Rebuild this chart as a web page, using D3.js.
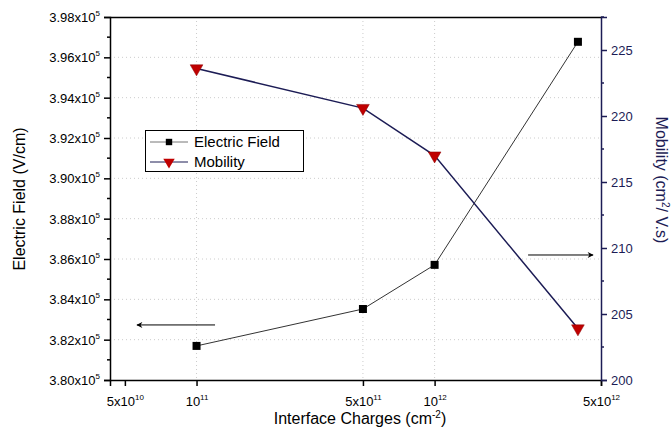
<!DOCTYPE html>
<html><head><meta charset="utf-8">
<script src="https://cdn.jsdelivr.net/npm/d3@7"></script>
<style>body{margin:0;background:#fff} text{font-family:"Liberation Sans",Arial,sans-serif}</style>
</head><body><svg id="c" width="672" height="432"></svg>
<script>
const charges = [1e11, 5e11, 1e12, 4e12];
const electricField = [3.8169e5, 3.8352e5, 3.8571e5, 3.9677e5];
const mobility = [223.6, 220.6, 217.0, 203.9];
const xTicks = [5e10, 1e11, 5e11, 1e12, 5e12];
const xTickLabels = [["5x10","10"],["10","11"],["5x10","11"],["10","12"],["5x10","12"]];
const yLeftTicks = [3.80e5,3.82e5,3.84e5,3.86e5,3.88e5,3.90e5,3.92e5,3.94e5,3.96e5,3.98e5];
const yLeftTickLabels = ["3.80","3.82","3.84","3.86","3.88","3.90","3.92","3.94","3.96","3.98"];
const yRightTicks = [200,205,210,215,220,225];
const arrowLeft = {x:[5.62e10,1.196e11], y:3.8273e5};
const arrowRight = {x:[2.47e12,4.63e12], y:209.47};

const svg = d3.select("#c");
const L=110,R=601,T=17,B=380;
const navy="#1c1c55";
const x = d3.scaleLog().domain([4.33e10,5e12]).range([L,R]);
const yL = d3.scaleLinear().domain([3.80e5,3.98e5]).range([B,T]);
const yR = d3.scaleLinear().domain([200,227.5]).range([B,T]);

// gridlines
const g = svg.append("g");
g.selectAll("line.h").data(yLeftTicks.slice(1,-1)).enter().append("line")
 .attr("x1",L).attr("x2",R).attr("y1",d=>yL(d)).attr("y2",d=>yL(d))
 .attr("stroke","#ccc").attr("stroke-width",1).attr("stroke-dasharray","1,3");
g.selectAll("line.v").data(xTicks.slice(1,-1)).enter().append("line")
 .attr("y1",T).attr("y2",B).attr("x1",d=>x(d)).attr("x2",d=>x(d))
 .attr("stroke","#ccc").attr("stroke-width",1).attr("stroke-dasharray","1,3");

// top frame
svg.append("line").attr("x1",L).attr("x2",R).attr("y1",T+0.5).attr("y2",T+0.5).attr("stroke","#000").attr("stroke-width",1.5);

// x axis
const xa = svg.append("g").attr("transform",`translate(0,${B})`)
 .call(d3.axisBottom(x).tickValues(xTicks).tickSize(6).tickFormat(""));
xa.select(".domain").attr("stroke-width",1.5);
xa.selectAll(".tick line").attr("stroke-width",1.5);
xa.selectAll(".tick").append("text").attr("y",26).attr("text-anchor","middle")
 .attr("fill","#000").style("font-size","13px")
 .each(function(d,i){
   const t=d3.select(this);
   t.append("tspan").text(xTickLabels[i][0]);
   t.append("tspan").attr("dy",-6).style("font-size","8px").text(xTickLabels[i][1]);
 });

// left axis
const ya = svg.append("g").attr("transform",`translate(${L},0)`)
 .call(d3.axisLeft(yL).tickValues(yLeftTicks).tickSize(6).tickFormat(""));
ya.select(".domain").attr("stroke-width",1.5);
ya.selectAll(".tick line").attr("stroke-width",1.5);
ya.selectAll(".tick").append("text").attr("x",-10).attr("dy","0.35em").attr("text-anchor","end")
 .attr("fill","#000").style("font-size","13px")
 .each(function(d,i){
   const t=d3.select(this);
   t.append("tspan").text(yLeftTickLabels[i]+"x10");
   t.append("tspan").attr("dy",-6).style("font-size","8px").text("5");
 });
const yLminor = d3.range(0,9).map(i=>yLeftTicks[i]+0.01e5);
svg.append("g").selectAll("line").data(yLminor).enter().append("line")
 .attr("x1",L-3).attr("x2",L).attr("y1",d=>yL(d)).attr("y2",d=>yL(d)).attr("stroke","#000").attr("stroke-width",1.5);

// right axis
const yra = svg.append("g").attr("transform",`translate(${R},0)`)
 .call(d3.axisRight(yR).tickValues(yRightTicks).tickSize(6).tickFormat(d3.format("d")));
yra.select(".domain").attr("stroke",navy).attr("stroke-width",1.5);
yra.selectAll(".tick line").attr("stroke",navy).attr("stroke-width",1.5);
yra.selectAll(".tick text").attr("fill",navy).attr("x",10).style("font-size","13px").style("font-family","Liberation Sans, Arial, sans-serif");
const yRminor = yRightTicks.map(d=>d+2.5);
svg.append("g").selectAll("line").data(yRminor).enter().append("line")
 .attr("x1",R).attr("x2",R+3).attr("y1",d=>yR(d)).attr("y2",d=>yR(d)).attr("stroke",navy).attr("stroke-width",1.5);

// axis titles
svg.append("text").attr("transform","translate(25,199) rotate(-90)").attr("text-anchor","middle")
 .style("font-size","16px").text("Electric Field (V/cm)");
const xt = svg.append("text").attr("x",360).attr("y",424).attr("text-anchor","middle").style("font-size","16px");
xt.append("tspan").text("Interface Charges (cm");
xt.append("tspan").attr("dy",-6).style("font-size","10px").text("-2");
xt.append("tspan").attr("dy",6).text(")");
const rt = svg.append("text").attr("transform","translate(656,180) rotate(90)").attr("text-anchor","middle")
 .attr("fill",navy).style("font-size","16px");
rt.append("tspan").text("Mobility (cm");
rt.append("tspan").attr("dy",-6).style("font-size","10px").text("2");
rt.append("tspan").attr("dy",6).text("/ V.s)");

// lines
const efData = charges.map((c,i)=>[c,electricField[i]]);
const moData = charges.map((c,i)=>[c,mobility[i]]);
svg.append("path").datum(efData).attr("fill","none").attr("stroke","#333").attr("stroke-width",1)
 .attr("d",d3.line().x(d=>x(d[0])).y(d=>yL(d[1])));
svg.append("path").datum(moData).attr("fill","none").attr("stroke",navy).attr("stroke-width",1.5)
 .attr("d",d3.line().x(d=>x(d[0])).y(d=>yR(d[1])));
const sq = d3.symbol().type(d3.symbolSquare).size(64);
const tri = d3.symbol().type(d3.symbolTriangle).size(70);
svg.append("g").selectAll("path").data(efData).enter().append("path")
 .attr("d",sq).attr("transform",d=>`translate(${x(d[0])},${yL(d[1])})`).attr("fill","#000");
svg.append("g").selectAll("path").data(moData).enter().append("path")
 .attr("d",tri).attr("transform",d=>`translate(${x(d[0])},${yR(d[1])}) rotate(180)`).attr("fill","#c00000").attr("stroke","#8b0000").attr("stroke-width",0.5);

// arrows
const defs = svg.append("defs");
defs.append("marker").attr("id","ah").attr("viewBox","0 0 10 10").attr("refX",9).attr("refY",5)
 .attr("markerWidth",9).attr("markerHeight",6).attr("markerUnits","userSpaceOnUse").attr("orient","auto")
 .append("path").attr("d","M0,0 L10,5 L0,10 L3,5 Z").attr("fill","#000");
svg.append("line").attr("x1",x(arrowLeft.x[1])).attr("x2",x(arrowLeft.x[0]))
 .attr("y1",yL(arrowLeft.y)).attr("y2",yL(arrowLeft.y)).attr("stroke","#000").attr("stroke-width",1).attr("marker-end","url(#ah)");
svg.append("line").attr("x1",x(arrowRight.x[0])).attr("x2",x(arrowRight.x[1]))
 .attr("y1",yR(arrowRight.y)).attr("y2",yR(arrowRight.y)).attr("stroke","#000").attr("stroke-width",1).attr("marker-end","url(#ah)");

// legend
const lg = svg.append("g");
lg.append("rect").attr("x",145.5).attr("y",130.5).attr("width",158).attr("height",41).attr("fill","#fff").attr("stroke","#000").attr("stroke-width",1);
lg.append("line").attr("x1",150).attr("x2",188).attr("y1",142).attr("y2",142).attr("stroke","#777").attr("stroke-width",1);
lg.append("path").attr("d",sq).attr("transform","translate(169,142) scale(0.8)").attr("fill","#000");
lg.append("text").attr("x",194).attr("y",147).style("font-size","15px").text("Electric Field");
lg.append("line").attr("x1",150).attr("x2",188).attr("y1",162).attr("y2",162).attr("stroke",navy).attr("stroke-width",1);
lg.append("path").attr("d",tri).attr("transform","translate(169,162) rotate(180) scale(0.9)").attr("fill","#c00000");
lg.append("text").attr("x",194).attr("y",167).style("font-size","15px").text("Mobility");
</script></body></html>
